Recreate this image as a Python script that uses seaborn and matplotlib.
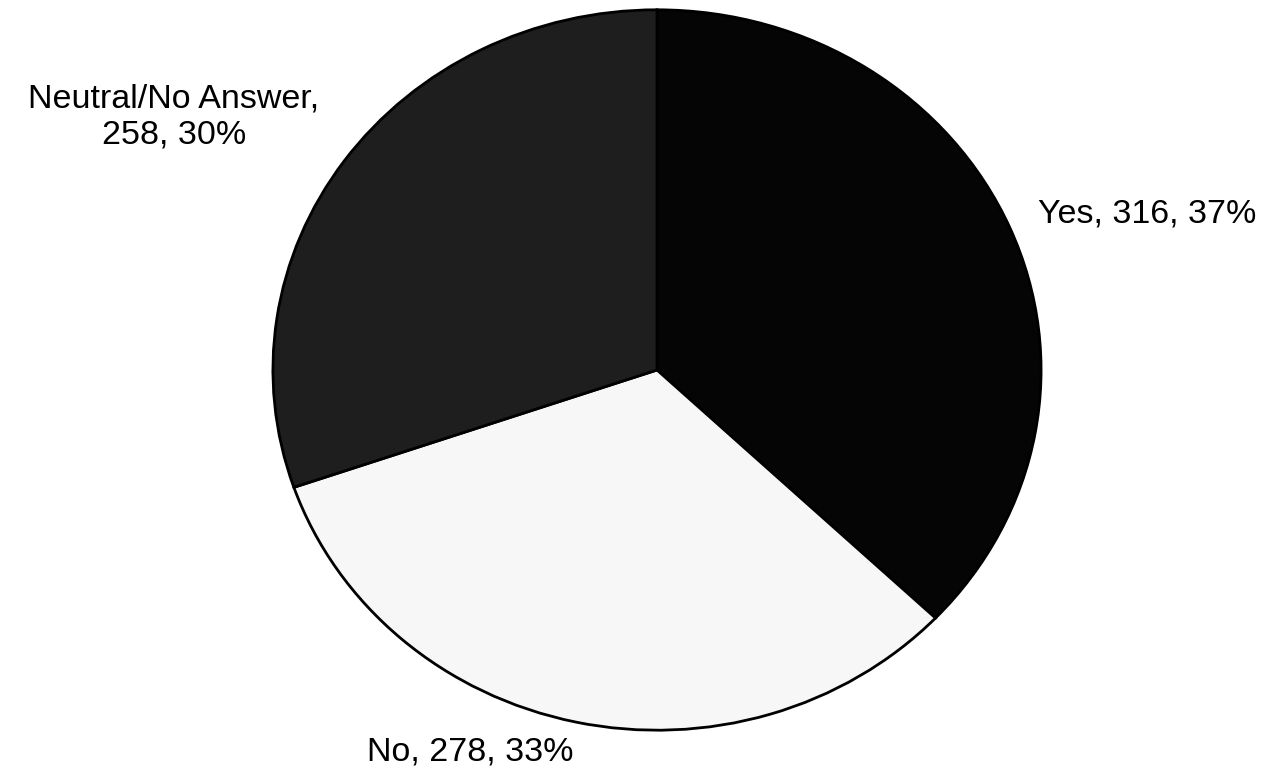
import matplotlib.pyplot as plt
import seaborn as sns
sns.set_style("white")
plt.rcParams['font.family'] = ['Liberation Sans', 'DejaVu Sans']

answers = ['Yes', 'No', 'Neutral/No Answer']
counts = [316, 278, 258]
colors = ['#050505', '#f7f7f7', '#1e1e1e']

total = sum(counts)
label_text = [f'{a}, {c}, {round(100 * c / total)}%' for a, c in zip(answers, counts)]
label_text[2] = label_text[2].replace(', ', ',\n', 1)

fig = plt.figure(figsize=(12.7, 7.76), dpi=100)
W, H = 1270, 776
# pie is slightly wider than tall in the original, so stretch the axes box
ax = fig.add_axes([271 / W, 1 - 732 / H, 772 / W, 724 / H])
ax.pie(counts, colors=colors, startangle=90, counterclock=False,
       wedgeprops=dict(edgecolor='black', linewidth=2))
ax.set_aspect('auto')
ax.set_xlim(-1.005, 1.005)
ax.set_ylim(-1.005, 1.005)

# label positions in pixels (centre of text)
label_pos = [(1147, 214), (470, 752), (174, 117)]
for txt, (px, py) in zip(label_text, label_pos):
    fig.text(px / W, 1 - py / H, txt, ha='center', va='center',
             fontsize=24.5, color='black', linespacing=1.2)

fig.savefig('out.png', dpi=100)
